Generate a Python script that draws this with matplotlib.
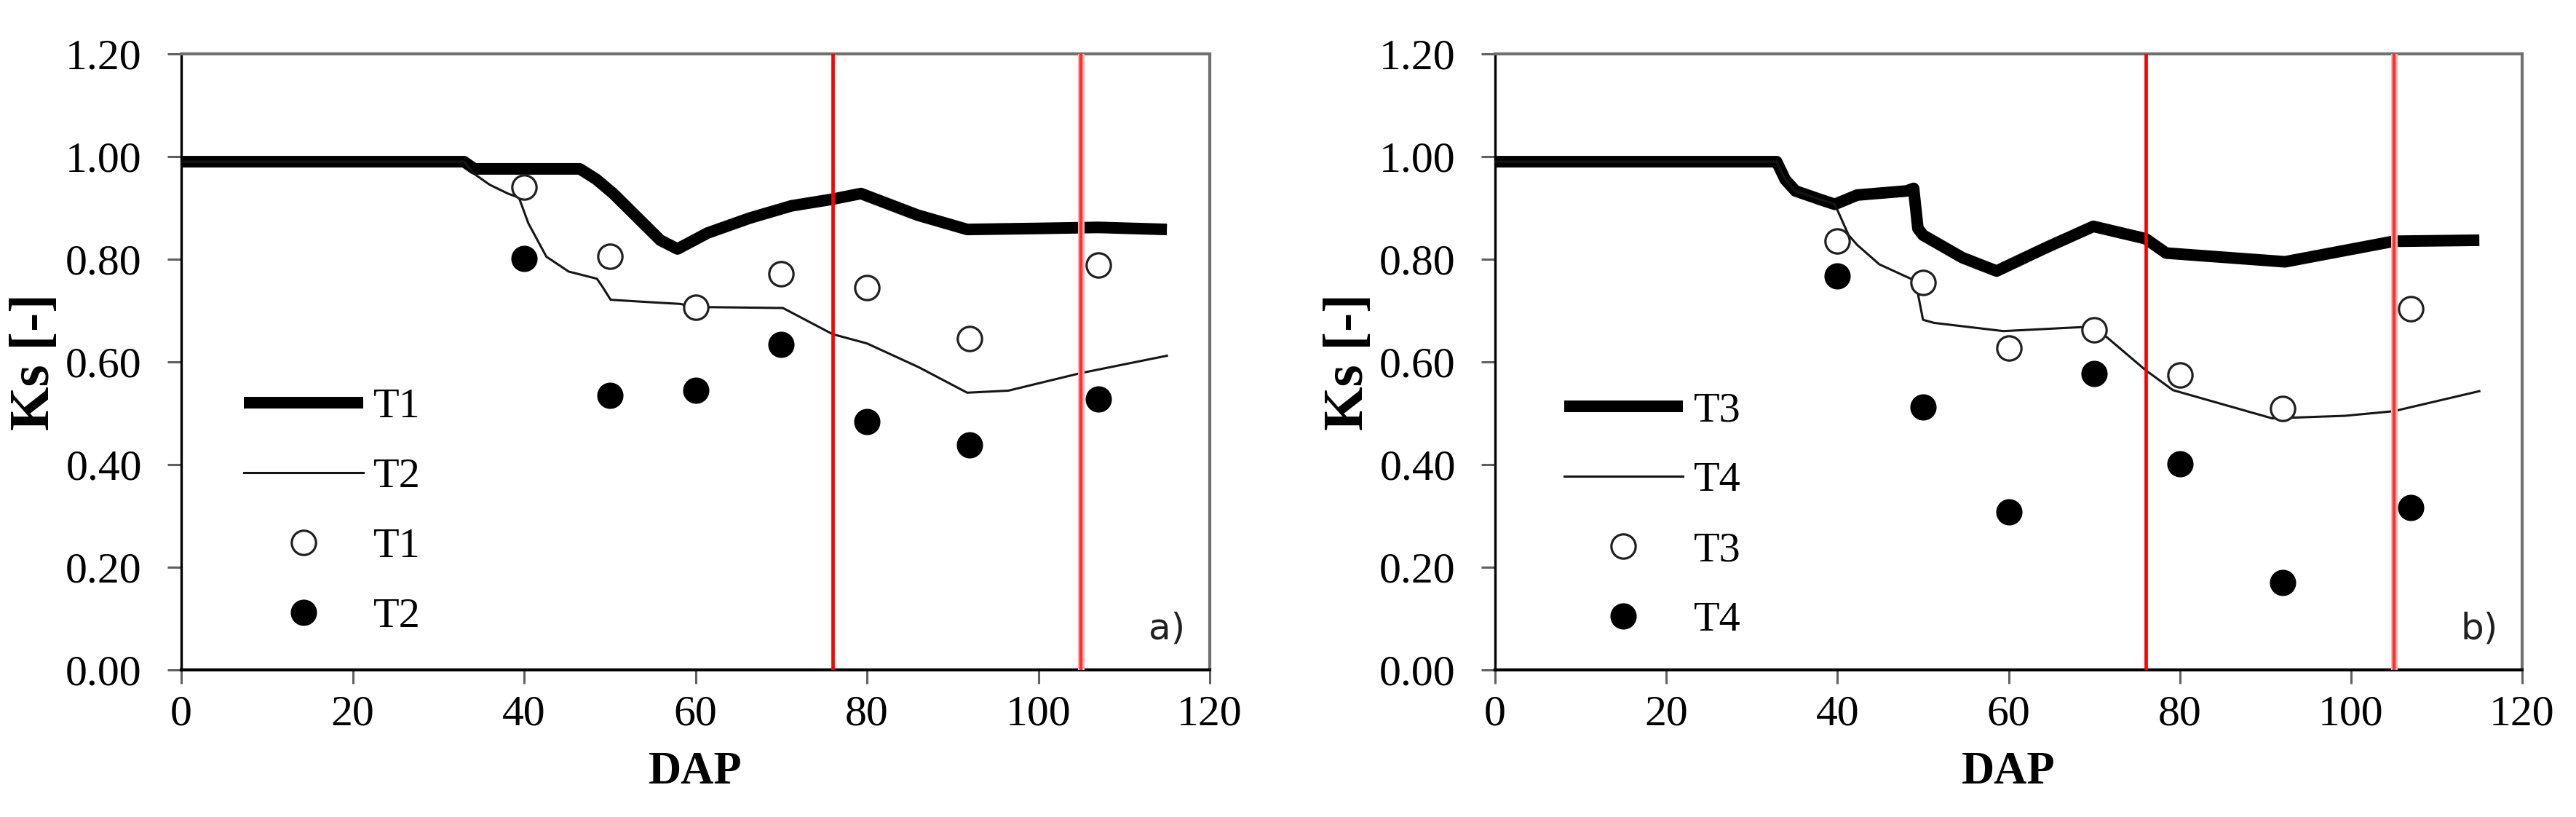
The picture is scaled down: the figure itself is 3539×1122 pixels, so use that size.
import matplotlib
matplotlib.use("Agg")
import matplotlib.pyplot as plt

# ---------------- data ----------------
# panel a) simulated Ks (lines)
t1_sim_dap = [0, 33, 34.2, 46.5, 48.4, 50.4, 53.3, 55.9, 57.9, 61.4, 66.3, 71.2, 76, 79.3, 85.9, 91.7, 100, 107, 115]
t1_sim_ks = [0.99, 0.99, 0.976, 0.976, 0.956, 0.928, 0.880, 0.837, 0.820, 0.851, 0.880, 0.904, 0.917, 0.928, 0.886, 0.858, 0.860, 0.862, 0.858]
t2_sim_dap = [0, 33, 34.2, 36, 38.1, 39.4, 40.5, 42.6, 45.2, 48.5, 49.2, 50.1, 55, 58.2, 60, 70.2, 76, 80, 86, 91.7, 96.5, 104.9, 115]
t2_sim_ks = [0.99, 0.99, 0.966, 0.945, 0.928, 0.920, 0.870, 0.805, 0.776, 0.762, 0.745, 0.721, 0.716, 0.713, 0.707, 0.705, 0.654, 0.636, 0.590, 0.540, 0.544, 0.578, 0.612]

# panel b) simulated Ks (lines)
t3_sim_dap = [0, 32.9, 33.9, 35.1, 38.4, 39.7, 42.3, 48.1, 48.9, 49.4, 50.0, 54.6, 58.6, 64.3, 69.9, 76, 78.4, 92.3, 105, 115]
t3_sim_ks = [0.99, 0.99, 0.955, 0.933, 0.914, 0.907, 0.925, 0.933, 0.938, 0.860, 0.847, 0.803, 0.777, 0.822, 0.864, 0.840, 0.812, 0.795, 0.835, 0.837]
t4_sim_dap = [0, 32.9, 33.9, 35.1, 38.4, 39.7, 41.3, 42.3, 44.9, 48.7, 49.4, 50.0, 51.3, 59.4, 70, 76, 79.2, 90.8, 99.3, 105, 115]
t4_sim_ks = [0.99, 0.99, 0.955, 0.933, 0.914, 0.907, 0.847, 0.828, 0.790, 0.761, 0.733, 0.682, 0.676, 0.660, 0.669, 0.584, 0.545, 0.490, 0.495, 0.504, 0.543]

# observed Ks (markers)
obs_dap = [40, 50, 60, 70, 80, 92, 107]
t1_obs = [0.940, 0.805, 0.707, 0.771, 0.745, 0.645, 0.789]
t2_obs = [0.801, 0.535, 0.545, 0.634, 0.484, 0.439, 0.527]
t3_obs = [0.835, 0.755, 0.627, 0.662, 0.574, 0.509, 0.703]
t4_obs = [0.768, 0.512, 0.308, 0.578, 0.402, 0.170, 0.316]

# phase boundaries (DAP)
phase_lines = [76, 105]

x_ticks = [0, 20, 40, 60, 80, 100, 120]
y_ticks = [0.0, 0.2, 0.4, 0.6, 0.8, 1.0, 1.2]

# ---------------- style ----------------
SERIF = ["Liberation Serif", "DejaVu Serif"]
plt.rcParams["font.family"] = SERIF

W, H = 3539, 1122
fig = plt.figure(figsize=(W / 100, H / 100), dpi=100)


def make_panel(rect, thick, thin, obs_open, obs_fill, names, tag, leg_anchor):
    ax = fig.add_axes(rect)
    ax.set_xlim(0, 120)
    ax.set_ylim(0, 1.2)

    l1, = ax.plot(thick[0], thick[1], color="black", lw=11.5,
                  solid_joinstyle="round", solid_capstyle="butt", zorder=3)
    l2, = ax.plot(thin[0], thin[1], color="#151515", lw=2.2,
                  solid_joinstyle="round", zorder=3)
    m1, = ax.plot(obs_dap, obs_open, linestyle="none", marker="o", ms=24,
                  mfc="white", mec="#202020", mew=2.3, zorder=4)
    m2, = ax.plot(obs_dap, obs_fill, linestyle="none", marker="o", ms=25,
                  mfc="black", mec="black", mew=1, zorder=4)

    ax.axvline(phase_lines[0], color="#ff0000", lw=3.4, zorder=5)
    ax.axvline(phase_lines[1], color="#ffb4b4", lw=6.5, zorder=5)
    ax.axvline(phase_lines[1], color="#ff3030", lw=3.2, zorder=5)

    ax.set_xticks(x_ticks)
    ax.set_yticks(y_ticks)
    ax.set_xticklabels([str(v) for v in x_ticks])
    ax.set_yticklabels(["%.2f" % v for v in y_ticks])
    ax.tick_params(axis="both", direction="out", length=14, width=2.2,
                   color="#606060", labelsize=43, labelcolor="black")
    ax.tick_params(axis="x", pad=11)
    ax.tick_params(axis="y", pad=25)

    for s in ("left", "bottom"):
        ax.spines[s].set_color("black")
        ax.spines[s].set_linewidth(2.4)
    ax.spines["bottom"].set_linewidth(3.0)
    for s in ("top", "right"):
        ax.spines[s].set_color("#707070")
        ax.spines[s].set_linewidth(3.0)

    ax.set_xlabel("DAP", fontsize=45, fontweight="bold")
    ax.set_ylabel("Ks [-]", fontsize=56, fontweight="bold")
    ax.xaxis.set_label_coords(0.5, -0.132)
    ax.yaxis.set_label_coords(-0.117, 0.5)

    ax.text(115, 0.08, tag, fontsize=36, family=["DejaVu Sans"],
            ha="center", va="center", color="#202020")

    ax.legend([l1, l2, m1, m2], names, loc="upper left",
              bbox_to_anchor=leg_anchor, frameon=False, fontsize=42,
              handlelength=2.8, handletextpad=0.25, labelspacing=0.74,
              borderpad=0, borderaxespad=0, numpoints=1)
    return ax


ax_a = make_panel([249 / W, 1 - 920 / H, 1413 / W, 846 / H],
                  (t1_sim_dap, t1_sim_ks), (t2_sim_dap, t2_sim_ks),
                  t1_obs, t2_obs, ["T1", "T2", "T1", "T2"], "a)",
                  (0.061, 0.458))
ax_b = make_panel([2054 / W, 1 - 920 / H, 1411 / W, 846 / H],
                  (t3_sim_dap, t3_sim_ks), (t4_sim_dap, t4_sim_ks),
                  t3_obs, t4_obs, ["T3", "T4", "T3", "T4"], "b)",
                  (0.067, 0.452))

fig.savefig("out.png", dpi=100, facecolor="white")
